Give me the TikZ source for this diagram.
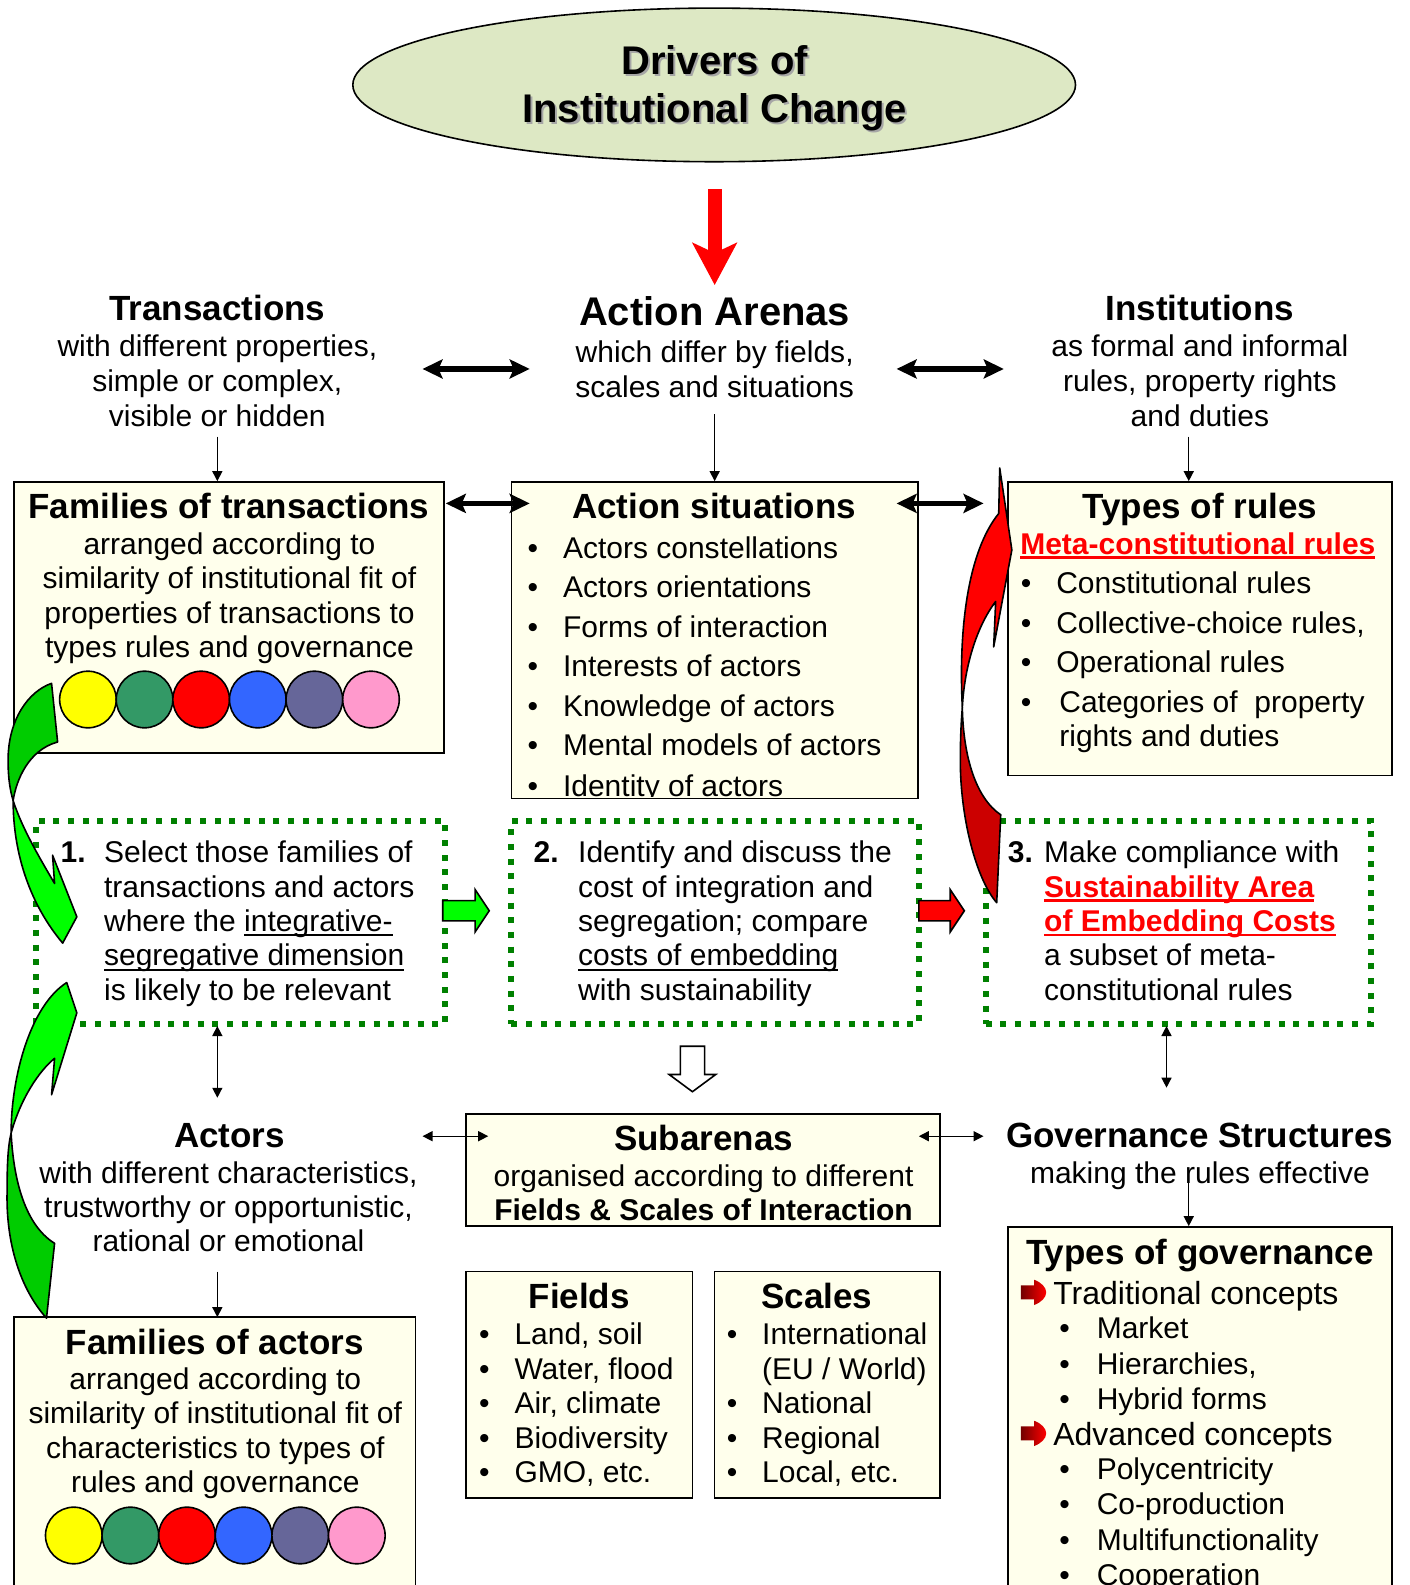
\documentclass[tikz,border=0pt]{standalone}
\usepackage{fontspec}
\setmainfont{Liberation Sans}
\usetikzlibrary{arrows.meta,fit,shapes.geometric}
\newlength{\upx}\setlength{\upx}{0.50535pt}
\definecolor{cream}{RGB}{255,255,236}
\definecolor{ellfill}{RGB}{221,232,196}
\definecolor{dotgreen}{RGB}{0,128,0}
\definecolor{brightgreen}{RGB}{0,255,0}
\definecolor{darkgreen}{RGB}{0,204,0}
\definecolor{darkred}{RGB}{204,0,0}
\definecolor{cyel}{RGB}{255,255,0}
\definecolor{cgrn}{RGB}{51,153,102}
\definecolor{cred}{RGB}{255,0,0}
\definecolor{cblu}{RGB}{51,102,255}
\definecolor{cpur}{RGB}{102,102,153}
\definecolor{cpnk}{RGB}{255,153,204}
\newcommand{\myul}[3]{\sbox0{#3}\rlap{\color{#1}\rule[-2.4pt]{\wd0}{#2}}\usebox0}
\newcommand{\bitem}[5]{\node[body, anchor=base west] (#1) at (#2,#3) {\makebox[#4\upx][l]{•}#5};}
\tikzset{
  box/.style={draw=black, line width=0.8pt, fill=cream, inner sep=0pt},
  stepbox/.style={draw=dotgreen, line width=3pt, dash pattern=on 3pt off 4.33pt, inner sep=0pt},
  body/.style={font=\fontsize{15}{18}\selectfont, inner sep=0pt, outer sep=0pt},
  head/.style={font=\fontsize{17.5}{21}\selectfont\bfseries, inner sep=0pt, outer sep=0pt},
  big/.style={font=\fontsize{20}{24}\selectfont\bfseries, inner sep=0pt, outer sep=0pt},
  sub/.style={font=\fontsize{16}{19}\selectfont, inner sep=0pt, outer sep=0pt},
  bigarrow/.style={line width=2.8pt, {Stealth[length=10pt,width=9.5pt,inset=2pt]}-{Stealth[length=10pt,width=9.5pt,inset=2pt]}},
  smallarrow/.style={line width=0.7pt, -{Triangle[length=5pt,width=5pt]}},
  smalldouble/.style={line width=0.7pt, {Triangle[length=5pt,width=5pt]}-{Triangle[length=5pt,width=5pt]}},
  curve/.style={draw=black, line width=0.8pt, line join=round},
  blockarrow/.style={draw=black, line width=0.8pt, line join=miter},
}
\begin{document}
\begin{tikzpicture}[x=0.50535pt, y=-0.50535pt]
\useasboundingbox (0,0) rectangle (1394,1568);
\fill[white] (0,0) rectangle (1394,1568);

% ---------- title ellipse ----------
\node[ellipse, draw=black, line width=0.8pt, fill=ellfill, minimum width=361.3pt, minimum height=76.8pt, inner sep=0pt] (driv) at (706.5,84) {};
\node[big, anchor=base, text=black!35] (dsh1) at (709,76) {Drivers of};
\node[big, anchor=base, text=black!35] (dsh2) at (709,123) {Institutional Change};
\node[big, anchor=base] (dt1) at (707,74) {Drivers of};
\node[big, anchor=base] (dt2) at (707,121) {Institutional Change};

% red arrow down
\coordinate (ra1) at (707,187);
\coordinate (ra2) at (707,282);
\draw[red, line width=7pt, -{Stealth[length=21pt,width=22pt,inset=5pt]}] (ra1) -- (ra2);

% ---------- top row texts ----------
\node[head, anchor=base] (trh) at (215,317) {Transactions};
\node[body, anchor=base] (tr1) at (215,352.5) {with different properties,};
\node[body, anchor=base] (tr2) at (215,387.5) {simple or complex,};
\node[body, anchor=base] (tr3) at (215,421.5) {visible or hidden};

\node[big, anchor=base] (aah) at (707,322) {Action Arenas};
\node[body, anchor=base] (aa1) at (707,358.5) {which differ by fields,};
\node[body, anchor=base] (aa2) at (707,393.5) {scales and situations};

\node[head, anchor=base] (inh) at (1187,317) {Institutions};
\node[body, anchor=base] (in1) at (1187,352.5) {as formal and informal};
\node[body, anchor=base] (in2) at (1187,387.5) {rules, property rights};
\node[body, anchor=base] (in3) at (1187,421.5) {and duties};

\coordinate (ta1) at (418,365); \coordinate (ta2) at (524,365);
\coordinate (ta3) at (887,365); \coordinate (ta4) at (993,365);
\draw[bigarrow] (ta1) -- (ta2);
\draw[bigarrow] (ta3) -- (ta4);

% ---------- boxes ----------
\node[box, fit={(14,477) (439,745)}] (ftbox) {};
\node[box, fit={(506,477) (908,790)}] (asbox) {};
\node[box, fit={(997,477) (1377,767)}] (trbox) {};
\node[stepbox, fit={(36,812) (440,1013)}] (s1box) {};
\node[stepbox, fit={(506,812) (909,1013)}] (s2box) {};
\node[stepbox, fit={(975,812) (1356,1013)}] (s3box) {};
\node[box, fit={(461,1102) (930,1213)}] (subbox) {};
\node[box, fit={(461,1258) (685,1482)}] (fbox) {};
\node[box, fit={(707,1258) (930,1482)}] (scbox) {};
\node[box, fit={(14,1303) (411,1600)}] (fabox) {};
\node[box, fit={(997,1214) (1377,1600)}] (tgbox) {};

% thin arrows row 1
\coordinate (da1) at (215,432); \coordinate (da2) at (215,476);
\coordinate (da3) at (707,410); \coordinate (da4) at (707,476);
\coordinate (da5) at (1176,432); \coordinate (da6) at (1176,476);
\draw[smallarrow] (da1) -- (da2);
\draw[smallarrow] (da3) -- (da4);
\draw[smallarrow] (da5) -- (da6);

% thick arrows between boxes
\coordinate (tb1) at (441,498); \coordinate (tb2) at (524,498);
\coordinate (tb3) at (887,498); \coordinate (tb4) at (973,498);
\draw[bigarrow] (tb1) -- (tb2);
\draw[bigarrow] (tb3) -- (tb4);

% ---------- Families of transactions ----------
\node[head, anchor=base] (fth) at (226.5,512.5) {Families of transactions};
\node[body, anchor=base] (ft1) at (227,548.5) {arranged according to};
\node[body, anchor=base] (ft2) at (227,582.5) {similarity of institutional fit of};
\node[body, anchor=base] (ft3) at (227,616.5) {properties of transactions to};
\node[body, anchor=base] (ft4) at (227,650.5) {types rules and governance};
\foreach \col [count=\i] in {cyel,cgrn,cred,cblu,cpur,cpnk} {
  \node[circle, draw=black, line width=0.8pt, fill=\col, minimum size=28.3pt, inner sep=0pt] (tc\i) at ({31+56*\i},692) {};
}

% ---------- Action situations ----------
\node[head, anchor=base] (ash) at (706.5,512.5) {Action situations};
\bitem{as1}{522}{552.5}{35}{Actors constellations}
\bitem{as2}{522}{591.5}{35}{Actors orientations}
\bitem{as3}{522}{630.5}{35}{Forms of interaction}
\bitem{as4}{522}{669.5}{35}{Interests of actors}
\bitem{as5}{522}{708.5}{35}{Knowledge of actors}
\bitem{as6}{522}{747.5}{35}{Mental models of actors}
\begin{scope}
\clip (506,477) rectangle (908,788);
\bitem{as7}{522}{787.5}{35}{Identity of actors}
\end{scope}

% ---------- Types of rules ----------
\node[head, anchor=base] (trh2) at (1187,512.5) {Types of rules};
\node[body, anchor=base] (meta) at (1185,548.5) {\myul{red}{1.4pt}{\textcolor{red}{\bfseries Meta-constitutional rules}}};
\bitem{tr4}{1010}{587.5}{35}{Constitutional rules}
\bitem{tr5}{1010}{626.5}{35}{Collective-choice rules,}
\bitem{tr6}{1010}{665.5}{35}{Operational rules}
\bitem{tr7}{1010}{704.5}{38}{Categories of~ property}
\node[body, anchor=base west] (tr8) at (1048,738.5) {rights and duties};

% ---------- Step boxes ----------
\node[body, anchor=base west, font=\fontsize{15}{18}\selectfont\bfseries] (n1) at (60,853.5) {1.};
\node[body, anchor=base west] (s11) at (103,853.5) {Select those families of};
\node[body, anchor=base west] (s12) at (103,887.5) {transactions and actors};
\node[body, anchor=base west] (s13) at (103,921.5) {where the \myul{black}{1pt}{integrative-}};
\node[body, anchor=base west] (s14) at (103,955.5) {\myul{black}{1pt}{segregative dimension}};
\node[body, anchor=base west] (s15) at (103,989.5) {is likely to be relevant};

\node[body, anchor=base west, font=\fontsize{15}{18}\selectfont\bfseries] (n2) at (528,853.5) {2.};
\node[body, anchor=base west] (s21) at (572,853.5) {Identify and discuss the};
\node[body, anchor=base west] (s22) at (572,887.5) {cost of integration and};
\node[body, anchor=base west] (s23) at (572,921.5) {segregation; compare};
\node[body, anchor=base west] (s24) at (572,955.5) {\myul{black}{1pt}{costs of embedding}};
\node[body, anchor=base west] (s25) at (572,989.5) {with sustainability};

\node[body, anchor=base west, font=\fontsize{15}{18}\selectfont\bfseries] (n3) at (997,853.5) {3.};
\node[body, anchor=base west] (s31) at (1033,853.5) {Make compliance with};
\node[body, anchor=base west] (s32) at (1033,887.5) {\myul{red}{1.4pt}{\textcolor{red}{\bfseries Sustainability Area}}};
\node[body, anchor=base west] (s33) at (1033,921.5) {\myul{red}{1.4pt}{\textcolor{red}{\bfseries of Embedding Costs}}};
\node[body, anchor=base west] (s34) at (1033,955.5) {a subset of meta-};
\node[body, anchor=base west] (s35) at (1033,989.5) {constitutional rules};

% block arrows between steps
\filldraw[blockarrow, fill=brightgreen] (438,891) -- (470,891) -- (470,880) -- (484,901) -- (470,922) -- (470,911) -- (438,911) -- cycle;
\filldraw[blockarrow, fill=red] (909,891) -- (940,891) -- (940,880) -- (954,901) -- (940,922) -- (940,911) -- (909,911) -- cycle;

% hollow arrow
\filldraw[blockarrow, fill=white] (673,1035) -- (697,1035) -- (697,1063) -- (708,1063) -- (685,1080) -- (662,1063) -- (673,1063) -- cycle;

% thin arrows row 3
\coordinate (db1) at (215,1015); \coordinate (db2) at (215,1086);
\coordinate (db3) at (1154,1015); \coordinate (db4) at (1154,1076);
\draw[smalldouble] (db1) -- (db2);
\draw[smalldouble] (db3) -- (db4);
\coordinate (dc1) at (418,1124); \coordinate (dc2) at (483,1124);
\coordinate (dc3) at (909,1124); \coordinate (dc4) at (973,1124);
\draw[smalldouble] (dc1) -- (dc2);
\draw[smalldouble] (dc3) -- (dc4);
\coordinate (dd1) at (215,1258); \coordinate (dd2) at (215,1303);
\coordinate (dd3) at (1176,1170); \coordinate (dd4) at (1176,1213);
\draw[smallarrow] (dd1) -- (dd2);

% ---------- Actors ----------
\node[head, anchor=base] (ach) at (227,1135.5) {Actors};
\node[body, anchor=base] (ac1) at (226,1170.5) {with different characteristics,};
\node[body, anchor=base] (ac2) at (226,1204.5) {trustworthy or opportunistic,};
\node[body, anchor=base] (ac3) at (226,1238.5) {rational or emotional};

% ---------- Subarenas ----------
\node[head, anchor=base] (sbh) at (696,1138.5) {Subarenas};
\node[body, anchor=base] (sb1) at (696,1173.5) {organised according to different};
\node[body, anchor=base, font=\fontsize{15}{18}\selectfont\bfseries] (sb2) at (696,1207.5) {Fields \& Scales of Interaction};

% ---------- Governance structures ----------
\node[head, anchor=base] (gsh) at (1187,1135.5) {Governance Structures};
\node[body, anchor=base] (gs1) at (1187,1170.5) {making the rules effective};
\draw[smallarrow] (dd3) -- (dd4);

% ---------- Fields / Scales ----------
\node[head, anchor=base] (fih) at (573,1294.5) {Fields};
\bitem{fi1}{474}{1330.5}{35}{Land, soil}
\bitem{fi2}{474}{1364.5}{35}{Water, flood}
\bitem{fi3}{474}{1398.5}{35}{Air, climate}
\bitem{fi4}{474}{1432.5}{35}{Biodiversity}
\bitem{fi5}{474}{1466.5}{35}{GMO, etc.}

\node[head, anchor=base] (sch) at (808,1294.5) {Scales};
\bitem{sc1}{719}{1330.5}{35}{International}
\node[body, anchor=base west] (sc2) at (754,1364.5) {(EU / World)};
\bitem{sc3}{719}{1398.5}{35}{National}
\bitem{sc4}{719}{1432.5}{35}{Regional}
\bitem{sc5}{719}{1466.5}{35}{Local, etc.}

% ---------- Families of actors ----------
\node[head, anchor=base] (fah) at (212.5,1339.5) {Families of actors};
\node[body, anchor=base] (fa1) at (213,1374.5) {arranged according to};
\node[body, anchor=base] (fa2) at (213,1408.5) {similarity of institutional fit of};
\node[body, anchor=base] (fa3) at (213,1442.5) {characteristics to types of};
\node[body, anchor=base] (fa4) at (213,1476.5) {rules and governance};
\foreach \col [count=\i] in {cyel,cgrn,cred,cblu,cpur,cpnk} {
  \node[circle, draw=black, line width=0.8pt, fill=\col, minimum size=28.3pt, inner sep=0pt] (fc\i) at ({17+56*\i},1519) {};
}

% ---------- Types of governance ----------
\node[head, anchor=base] (tgh) at (1187,1250.5) {Types of governance};
\foreach \yy/\nm in {1278.5/ga, 1418/gb} {
  \shade[left color=red!45!black, right color=red, draw=none]
    (1010,\yy-7) -- (1023,\yy-7) -- (1023,\yy-12.5) .. controls (1030,\yy-10) and (1035,\yy-5) .. (1035,\yy)
    .. controls (1035,\yy+5) and (1030,\yy+10) .. (1023,\yy+12.5) -- (1023,\yy+7) -- (1010,\yy+7) -- cycle;
}
\node[sub, anchor=base west] (tg1) at (1042,1290.5) {Traditional concepts};
\bitem{tg2}{1048}{1324.5}{37}{Market}
\bitem{tg3}{1048}{1359.5}{37}{Hierarchies,}
\bitem{tg4}{1048}{1394.5}{37}{Hybrid forms}
\node[sub, anchor=base west] (tg5) at (1042,1429.5) {Advanced concepts};
\bitem{tg6}{1048}{1463.5}{37}{Polycentricity}
\bitem{tg7}{1048}{1498.5}{37}{Co-production}
\bitem{tg8}{1048}{1533.5}{37}{Multifunctionality}
\bitem{tg9}{1048}{1568.5}{37}{Cooperation}

% ---------- curved green arrows ----------
\filldraw[curve, fill=darkgreen] (51,676) .. controls (28,684) and (8,712) .. (8,752) .. controls (8,770) and (10,782) .. (13,792) .. controls (16,772) and (28,742) .. (57,734) -- cycle;
\filldraw[curve, fill=brightgreen] (13,792) .. controls (13,845) and (30,895) .. (62,933) -- (76,907) -- (52,846) -- (54,874) .. controls (40,850) and (22,820) .. (13,792) -- cycle;
\filldraw[curve, fill=darkgreen] (46,1304) .. controls (20,1275) and (6,1230) .. (7,1180) .. controls (7,1150) and (8,1133) .. (11,1121) .. controls (13,1160) and (22,1210) .. (54,1230) -- cycle;
\filldraw[curve, fill=brightgreen] (11,1121) .. controls (11,1065) and (30,995) .. (66,972) -- (76,1002) -- (51,1083) -- (54,1047) .. controls (38,1060) and (20,1088) .. (11,1121) -- cycle;

% ---------- curved red arrow ----------
\filldraw[curve, fill=darkred] (952,700) .. controls (953,750) and (966,790) .. (990,806) -- (986,893) .. controls (966,870) and (950,810) .. (950,752) .. controls (950,730) and (951,712) .. (952,700) -- cycle;
\filldraw[curve, fill=red] (952,700) .. controls (948,620) and (958,545) .. (988,508) -- (989,463) -- (1001,544) -- (983,640) -- (985,595) .. controls (966,620) and (954,660) .. (952,700) -- cycle;

\end{tikzpicture}
\end{document}
